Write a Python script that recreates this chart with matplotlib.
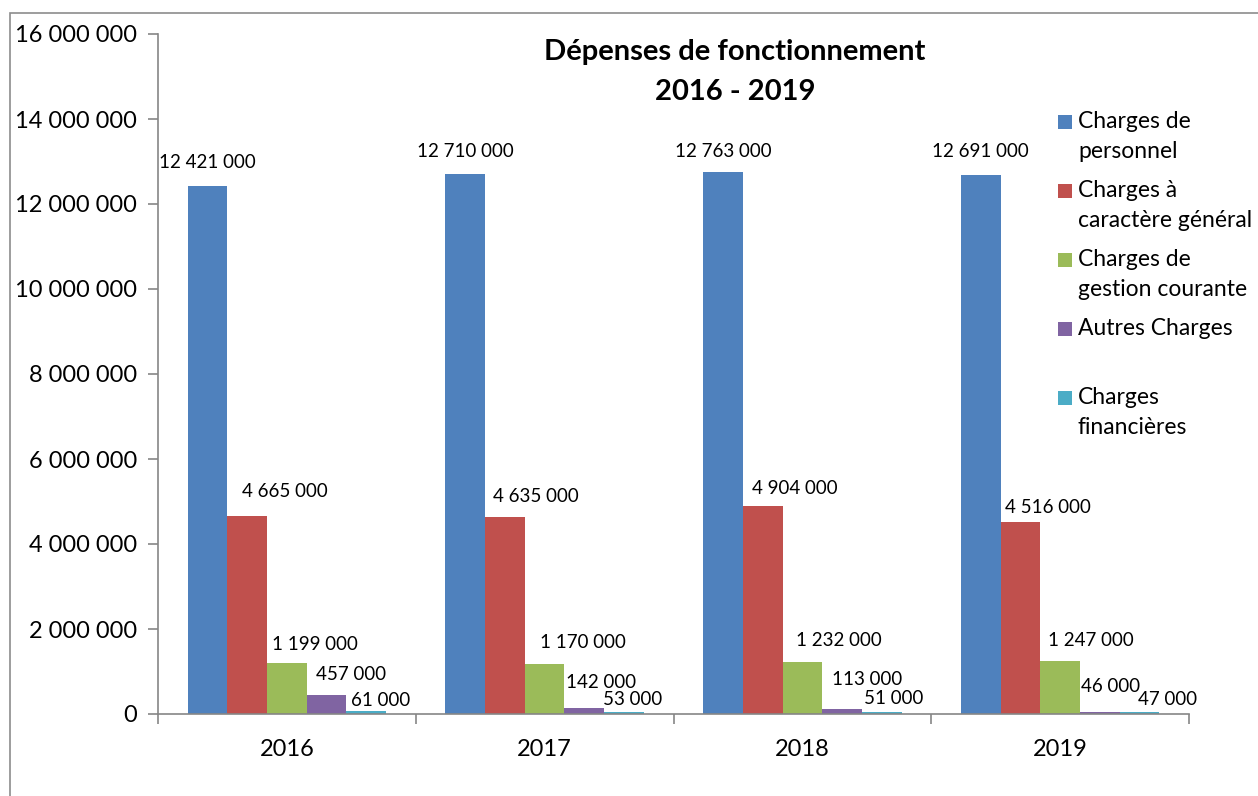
import matplotlib.pyplot as plt
import numpy as np
from matplotlib.patches import Rectangle

plt.rcParams['font.family'] = ['Lato', 'DejaVu Sans']

# Données
annees = ['2016', '2017', '2018', '2019']
series = ['Charges de\npersonnel', 'Charges à\ncaractère général',
          'Charges de\ngestion courante', 'Autres Charges', 'Charges\nfinancières']
personnel = [12421000, 12710000, 12763000, 12691000]
general = [4665000, 4635000, 4904000, 4516000]
gestion = [1199000, 1170000, 1232000, 1247000]
autres = [457000, 142000, 113000, 46000]
financieres = [61000, 53000, 51000, 47000]
valeurs = [personnel, general, gestion, autres, financieres]

couleurs = ['#4F81BD', '#C0504D', '#9BBB59', '#8064A2', '#4BACC6']

# décalage des étiquettes (pixels), comme dans le graphique d'origine
decal_x = [[0, 38, 28, 25, 14],
           [0, 31, 38, 17, 9],
           [0, 32, 36, 25, 12],
           [0, 27, 31, 11, 28]]
decal_y = [[24, 24, 19, 20, 11],
           [22, 21, 22, 25, 12],
           [20, 17, 21, 30, 13],
           [23, 15, 21, 26, 13]]


def fmt(v):
    return f"{v:,}".replace(",", " ")


W, H = 1258, 796
fig = plt.figure(figsize=(W / 100, H / 100), dpi=100)
ax = fig.add_axes([158 / W, 82 / H, 1031 / W, 680 / H])

# cadre du graphique
fig.patches.append(Rectangle((10 / W, -0.5), 2, 0.5 + 1 - 13 / H,
                             transform=fig.transFigure, fill=False,
                             edgecolor='#8C8C8C', linewidth=1.2))

x = np.arange(len(annees))
w = 1 / 6.5
for i, (vals, c) in enumerate(zip(valeurs, couleurs)):
    pos = x + (i - 2) * w
    ax.bar(pos, vals, width=w, color=c, linewidth=0)
    for j, v in enumerate(vals):
        ax.annotate(fmt(v), (pos[j], v), xytext=(decal_x[j][i], decal_y[j][i]),
                    textcoords='offset pixels', ha='center', va='center',
                    fontsize=13.5)

ax.set_xlim(-0.5, 3.5)
ax.set_ylim(0, 16000000)
ax.set_yticks(np.arange(0, 16000001, 2000000))
ax.set_yticklabels([fmt(v) for v in range(0, 16000001, 2000000)], fontsize=17)
ax.set_xticks(x)
ax.set_xticklabels(annees, fontsize=17)
ax.set_xticks(np.arange(-0.5, 4, 1), minor=True)
ax.tick_params(axis='x', which='major', length=0, pad=18)
ax.tick_params(axis='x', which='minor', length=7, color='#868686', width=1.2)
ax.tick_params(axis='y', length=7, color='#868686', width=1.2, pad=8)
for s in ['top', 'right']:
    ax.spines[s].set_visible(False)
for s in ['left', 'bottom']:
    ax.spines[s].set_color('#868686')
    ax.spines[s].set_linewidth(1.2)

fig.text(735 / W, 1 - 52 / H, 'Dépenses de fonctionnement',
         ha='center', va='center', fontsize=21, fontweight='bold')
fig.text(735 / W, 1 - 92 / H, '2016 - 2019',
         ha='center', va='center', fontsize=21, fontweight='bold')

# légende
for i, (nom, c) in enumerate(zip(series, couleurs)):
    yc = 122 + i * 69
    fig.patches.append(Rectangle((1058 / W, 1 - (yc + 7) / H), 14 / W, 14 / H,
                                 transform=fig.transFigure, facecolor=c,
                                 edgecolor='none'))
    fig.text(1078 / W, 1 - (yc - 11) / H, nom, ha='left', va='top',
             fontsize=16.5, linespacing=1.55)

fig.savefig('out.png', dpi=100)
